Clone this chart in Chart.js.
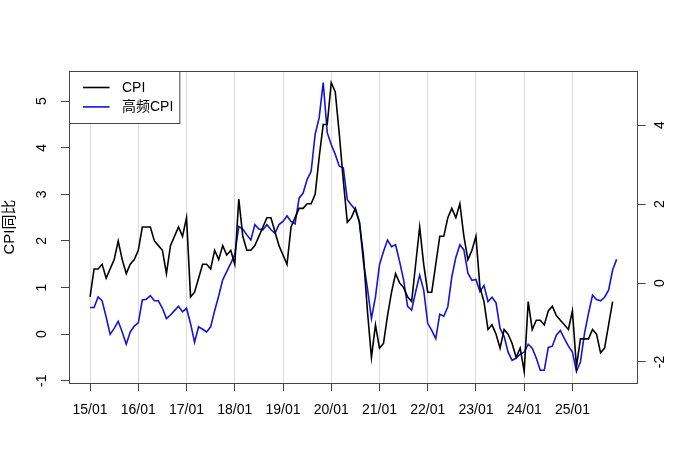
<!DOCTYPE html>
<html>
<head>
<meta charset="utf-8">
<script src="https://cdn.jsdelivr.net/npm/chart.js@4.4.1/dist/chart.umd.min.js"></script>
<style>
  html, body { margin: 0; padding: 0; background: #fff; }
</style>
</head>
<body>
<canvas id="chart" width="674" height="472"></canvas>
<script>
// x tick labels (yy/mm) and the month index each one sits on
const yearLabels = ['15/01', '16/01', '17/01', '18/01', '19/01', '20/01', '21/01', '22/01', '23/01', '24/01', '25/01'];
const yearTicks = [0, 12, 24, 36, 48, 60, 72, 84, 96, 108, 120];

// CPI yoy, monthly from 2015-01 (left axis)
const cpi = [
  0.8, 1.4, 1.4, 1.5, 1.2, 1.4, 1.6, 2.0, 1.6, 1.3, 1.5, 1.6,
  1.8, 2.3, 2.3, 2.3, 2.0, 1.9, 1.8, 1.3, 1.9, 2.1, 2.3, 2.1,
  2.5, 0.8, 0.9, 1.2, 1.5, 1.5, 1.4, 1.8, 1.6, 1.9, 1.7, 1.8,
  1.5, 2.9, 2.1, 1.8, 1.8, 1.9, 2.1, 2.3, 2.5, 2.5, 2.2, 1.9,
  1.7, 1.5, 2.3, 2.5, 2.7, 2.7, 2.8, 2.8, 3.0, 3.8, 4.5, 4.5,
  5.4, 5.2, 4.3, 3.3, 2.4, 2.5, 2.7, 2.4, 1.7, 0.5, -0.5, 0.2,
  -0.3, -0.2, 0.4, 0.9, 1.3, 1.1, 1.0, 0.8, 0.7, 1.5, 2.3, 1.5,
  0.9, 0.9, 1.5, 2.1, 2.1, 2.5, 2.7, 2.5, 2.8, 2.1, 1.6, 1.8,
  2.1, 1.0, 0.7, 0.1, 0.2, 0.0, -0.3, 0.1, 0.0, -0.2, -0.5, -0.3,
  -0.8, 0.7, 0.1, 0.3, 0.3, 0.2, 0.5, 0.6, 0.4, 0.3, 0.2, 0.1,
  0.5, -0.7, -0.1, -0.1, -0.1, 0.1, 0.0, -0.4, -0.3, 0.2, 0.7
];

// high-frequency CPI, monthly from 2015-01 (right axis)
const hfCpi = [
  -0.62, -0.62, -0.35, -0.45, -0.86, -1.30, -1.15, -0.97, -1.24, -1.55, -1.24, -1.09,
  -1.01, -0.43, -0.41, -0.32, -0.45, -0.45, -0.64, -0.90, -0.81, -0.70, -0.59, -0.73,
  -0.64, -1.03, -1.50, -1.11, -1.17, -1.24, -1.11, -0.70, -0.33, 0.08, 0.29, 0.50,
  0.72, 1.43, 1.37, 1.22, 1.09, 1.48, 1.37, 1.35, 1.48, 1.35, 1.26, 1.48,
  1.56, 1.70, 1.56, 1.50, 2.15, 2.28, 2.62, 2.83, 3.77, 4.19, 5.08, 3.81,
  3.51, 3.26, 2.96, 2.92, 2.11, 1.98, 1.86, 1.56, 0.54, -0.13, -0.90, -0.35,
  0.46, 0.80, 1.09, 0.92, 0.97, 0.55, 0.08, -0.59, -0.69, -0.22, 0.20, -0.18,
  -1.02, -1.20, -1.41, -0.79, -0.84, -0.60, 0.16, 0.65, 0.97, 0.84, 0.25, 0.07,
  0.09, -0.22, -0.06, -0.47, -0.36, -0.50, -1.15, -1.35, -1.75, -1.96, -1.90, -1.80,
  -1.75, -1.55, -1.65, -1.90, -2.21, -2.21, -1.63, -1.60, -1.32, -1.20, -1.41, -1.60,
  -1.75, -2.24, -2.00, -1.28, -0.77, -0.31, -0.42, -0.45, -0.36, -0.18, 0.33, 0.60
];

const leftTicks = [-1, 0, 1, 2, 3, 4, 5];
const rightTicks = [-2, 0, 2, 4];

// R style axis range: data range plus 4% on each side
function rRange(vals) {
  const lo = Math.min(...vals), hi = Math.max(...vals);
  const pad = (hi - lo) * 0.04;
  return { min: lo - pad, max: hi + pad };
}

const xr = rRange([0, hfCpi.length - 1]);
const yl = rRange(cpi);
const yr = rRange(hfCpi);

const FONT = 'Liberation Sans, Arial, "Noto Sans CJK SC", sans-serif';
const AXIS = '#444';

const setTicks = list => scale => { scale.ticks = list.map(v => ({ value: v })); };

// box round the plot area + legend in the top-left corner, like base R
const boxPlugin = {
  id: 'rbox',
  afterDraw(chart) {
    const { ctx, chartArea: a } = chart;
    ctx.save();
    ctx.strokeStyle = AXIS;
    ctx.lineWidth = 1;
    ctx.strokeRect(Math.round(a.left) + 0.5, Math.round(a.top) + 0.5,
      Math.round(a.right - a.left) - 1, Math.round(a.bottom - a.top));

    // legend
    ctx.font = '14px ' + FONT;
    const sets = chart.data.datasets;
    const textW = Math.max(...sets.map(d => ctx.measureText(d.label).width));
    const bx = Math.round(a.left) + 0.5, by = Math.round(a.top) + 0.5;
    const bw = 53 + textW + 6, bh = 52;
    ctx.fillStyle = '#fff';
    ctx.fillRect(bx, by, bw, bh);
    ctx.strokeRect(bx, by, bw, bh);
    ctx.textBaseline = 'middle';
    ctx.textAlign = 'left';
    sets.forEach((d, i) => {
      const y = by + 16 + i * 19.4;
      ctx.strokeStyle = d.borderColor;
      ctx.lineWidth = d.borderWidth;
      ctx.beginPath();
      ctx.moveTo(bx + 13.5, y);
      ctx.lineTo(bx + 40, y);
      ctx.stroke();
      ctx.fillStyle = '#000';
      ctx.fillText(d.label, bx + 52.5, y + 0.5);
    });
    ctx.restore();
  }
};

new Chart(document.getElementById('chart'), {
  type: 'line',
  data: {
    datasets: [
      {
        label: 'CPI',
        data: cpi.map((v, i) => ({ x: i, y: v })),
        borderColor: '#000000',
        borderWidth: 1.6,
        yAxisID: 'y'
      },
      {
        label: '高频CPI',
        data: hfCpi.map((v, i) => ({ x: i, y: v })),
        borderColor: '#1414d8',
        borderWidth: 1.6,
        yAxisID: 'y1'
      }
    ]
  },
  options: {
    responsive: false,
    animation: false,
    layout: { padding: { top: 71, left: 0, right: 0, bottom: 0 } },
    elements: { point: { radius: 0 }, line: { tension: 0 } },
    plugins: { legend: { display: false }, tooltip: { enabled: false } },
    scales: {
      x: {
        type: 'linear',
        min: xr.min,
        max: xr.max,
        afterBuildTicks: setTicks(yearTicks),
        afterFit: s => { s.height = 89; },
        ticks: {
          autoSkip: false,
          maxRotation: 0,
          padding: 11,
          color: '#000',
          font: { family: FONT, size: 14 },
          callback: v => yearLabels[yearTicks.indexOf(v)]
        },
        grid: { color: '#dcdcdc', tickColor: AXIS, tickLength: 8, lineWidth: 1 },
        border: { display: false }
      },
      y: {
        position: 'left',
        min: yl.min,
        max: yl.max,
        afterBuildTicks: setTicks(leftTicks),
        afterFit: s => { s.width = 69; },
        ticks: {
          minRotation: 90,
          maxRotation: 90,
          crossAlign: 'center',
          padding: 13,
          color: '#000',
          font: { family: FONT, size: 14 }
        },
        grid: { drawOnChartArea: false, color: AXIS, tickLength: 8 },
        border: { display: false },
        title: {
          display: true,
          text: 'CPI同比',
          color: '#000',
          font: { family: FONT, size: 15 },
          padding: { top: 1, bottom: 0 }
        }
      },
      y1: {
        position: 'right',
        min: yr.min,
        max: yr.max,
        afterBuildTicks: setTicks(rightTicks),
        afterFit: s => { s.width = 36.3; },
        ticks: {
          minRotation: 90,
          maxRotation: 90,
          crossAlign: 'center',
          padding: 8,
          color: '#000',
          font: { family: FONT, size: 14 }
        },
        grid: { drawOnChartArea: false, color: AXIS, tickLength: 8 },
        border: { display: false }
      }
    }
  },
  plugins: [boxPlugin]
});
</script>
</body>
</html>
